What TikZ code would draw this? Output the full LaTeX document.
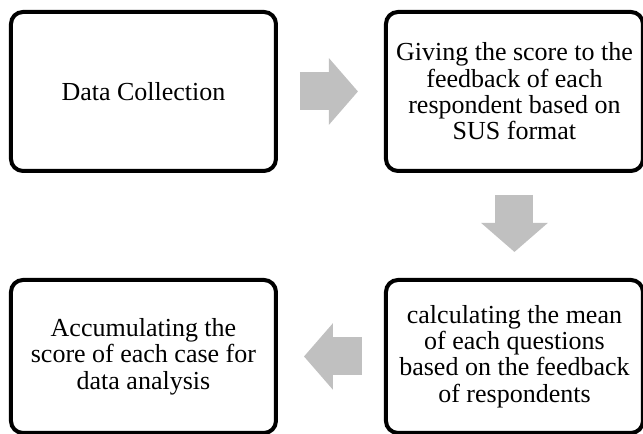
\documentclass[tikz,border=0pt]{standalone}
\usepackage{fontspec}
\setmainfont{Liberation Serif}
\usepackage{tikz}
\usetikzlibrary{positioning, arrows.meta}
\definecolor{arrowgray}{RGB}{192,192,192}

\begin{document}
\begin{tikzpicture}[stage/.style={draw, line width=3pt, rounded corners=9pt, align=center, inner sep=0pt, font=\fontsize{19.5}{19.8}\selectfont},
  flow/.style={draw=arrowgray, line width=28.5pt, -{Triangle[length=21.75pt, width=48.75pt, fill=arrowgray]}, shorten <=16.5pt, shorten >=19.5pt}]
  \useasboundingbox (0,0) rectangle (482.25pt,-324.75pt);
  \node (data) [stage, minimum width=198.75pt, minimum height=119.25pt] at (107.6pt,-68.6pt) {Data Collection};
  \node (score) [stage, minimum width=192.75pt, minimum height=119.25pt, right=79.5pt of data] {Giving the score to the\\feedback of each\\respondent based on\\SUS format};
  \node (mean) [stage, minimum width=192.75pt, minimum height=114.75pt, below=78.75pt of score] {calculating the mean\\of each questions\\based on the feedback\\of respondents};
  \node (accum) [stage, minimum width=198.75pt, minimum height=114.75pt, left=79.5pt of mean] {Accumulating the\\score of each case for\\data analysis};
  \draw[flow] (data) -- (score);
  \draw[flow] (score) -- (mean);
  \draw[flow] (mean) -- (accum);
\end{tikzpicture}
\end{document}
